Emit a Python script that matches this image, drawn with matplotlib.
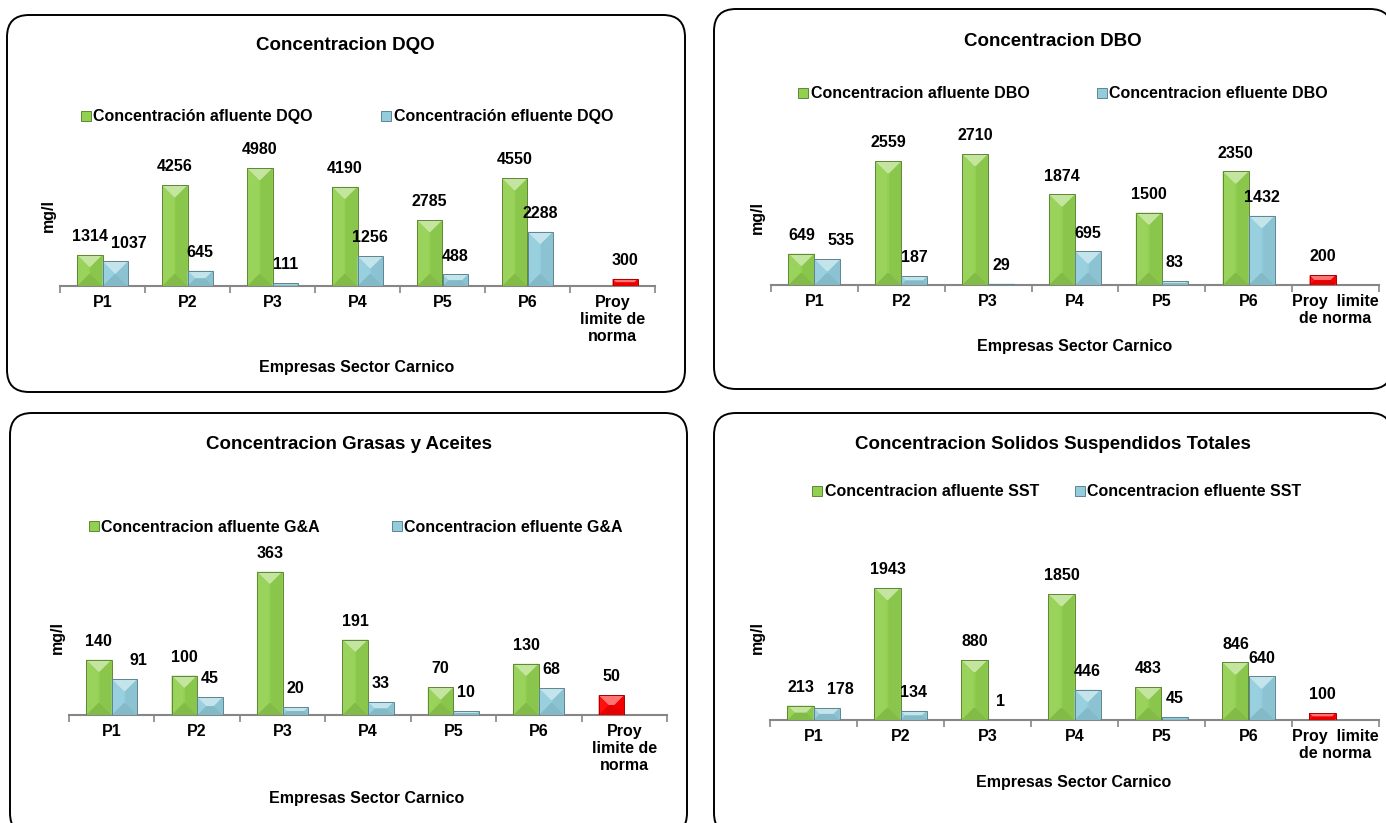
import numpy as np
import matplotlib
matplotlib.use("Agg")
import matplotlib.pyplot as plt
from matplotlib.patches import FancyBboxPatch, Polygon, Patch, Rectangle
from matplotlib.colors import to_rgb

plt.rcParams['font.family'] = ['Liberation Sans', 'DejaVu Sans']
plt.rcParams['font.weight'] = 'bold'

W, H = 1386, 823

# --- data -------------------------------------------------------------
categories = ['P1', 'P2', 'P3', 'P4', 'P5', 'P6']
proy_label_3 = 'Proy\nlimite de\nnorma'
proy_label_2 = 'Proy  limite\nde norma'

dqo_afluente = [1314, 4256, 4980, 4190, 2785, 4550]
dqo_efluente = [1037, 645, 111, 1256, 488, 2288]
dqo_norma = 300

dbo_afluente = [649, 2559, 2710, 1874, 1500, 2350]
dbo_efluente = [535, 187, 29, 695, 83, 1432]
dbo_norma = 200

ga_afluente = [140, 100, 363, 191, 70, 130]
ga_efluente = [91, 45, 20, 33, 10, 68]
ga_norma = 50

sst_afluente = [213, 1943, 880, 1850, 483, 846]
sst_efluente = [178, 134, 1, 446, 45, 640]
sst_norma = 100

GREEN = '#92D050'
BLUE = '#93CDDD'
RED = '#FF0000'
AXIS_GRAY = '#868686'


def fx(x):
    return x / W


def fy(y):
    return 1 - y / H


def lighten(c, f):
    r = np.array(to_rgb(c))
    return tuple(r + (1 - r) * f)


def darken(c, f):
    return tuple(np.array(to_rgb(c)) * (1 - f))


def bevel(ax, bars, color):
    # pyramid-style bevel faces on top of every bar, built in pixel space
    inv = ax.transData.inverted()
    for b in bars:
        x0, y0 = ax.transData.transform((b.get_x(), b.get_y()))
        x1, y1 = ax.transData.transform((b.get_x() + b.get_width(),
                                         b.get_y() + b.get_height()))
        w, h = x1 - x0, y1 - y0
        if h < 1:
            continue
        d = min(w / 2, h / 2, 12)
        faces = [
            ([(x0, y1), (x1, y1), (x1 - d, y1 - d), (x0 + d, y1 - d)], lighten(color, 0.45)),
            ([(x0, y0), (x1, y0), (x1 - d, y0 + d), (x0 + d, y0 + d)], darken(color, 0.10)),
            ([(x0, y0), (x0, y1), (x0 + d, y1 - d), (x0 + d, y0 + d)], lighten(color, 0.06)),
            ([(x1, y0), (x1, y1), (x1 - d, y1 - d), (x1 - d, y0 + d)], darken(color, 0.05)),
        ]
        for pts, fc in faces:
            ax.add_patch(Polygon(inv.transform(pts), closed=True, facecolor=fc,
                                 edgecolor='none', zorder=3))
        ax.add_patch(Rectangle(b.get_xy(), b.get_width(), b.get_height(), fill=False,
                               edgecolor=darken(color, 0.35), lw=0.7, zorder=4))


panels = [
    dict(title='Concentracion DQO', afl=dqo_afluente, efl=dqo_efluente, norma=dqo_norma,
         labels=('Concentración afluente DQO', 'Concentración efluente DQO'),
         proy=proy_label_3, norma_side=1, ymax=6000,
         box=(7, 15, 685, 392), axes=(60, 655, 286, 144),
         title_xy=(345, 46), legend_xy=(347, 117), colsp=4.3,
         ylab_xy=(48, 215), xlab_xy=(357, 368)),
    dict(title='Concentracion DBO', afl=dbo_afluente, efl=dbo_efluente, norma=dbo_norma,
         labels=('Concentracion afluente DBO', 'Concentracion efluente DBO'),
         proy=proy_label_2, norma_side=-1, ymax=3000,
         box=(714, 9, 1392, 389), axes=(771, 1379, 285, 140),
         title_xy=(1053, 42), legend_xy=(1063, 94), colsp=4.2,
         ylab_xy=(757, 217), xlab_xy=(1075, 347)),
    dict(title='Concentracion Grasas y Aceites', afl=ga_afluente, efl=ga_efluente, norma=ga_norma,
         labels=('Concentracion afluente G&A', 'Concentracion efluente G&A'),
         proy=proy_label_3, norma_side=-1, ymax=400,
         box=(10, 413, 687, 835), axes=(69, 667, 715, 557),
         title_xy=(349, 444), legend_xy=(356, 527), colsp=4.5,
         ylab_xy=(57, 637), xlab_xy=(367, 798)),
    dict(title='Concentracion Solidos Suspendidos Totales', afl=sst_afluente, efl=sst_efluente,
         norma=sst_norma,
         labels=('Concentracion afluente SST', 'Concentracion efluente SST'),
         proy=proy_label_2, norma_side=-1, ymax=2500,
         box=(714, 413, 1392, 835), axes=(770, 1379, 720, 550),
         title_xy=(1053, 444), legend_xy=(1057, 492), colsp=2.25,
         ylab_xy=(757, 637), xlab_xy=(1074, 783)),
]

fig = plt.figure(figsize=(W / 100, H / 100), dpi=100)

BAR_W = 0.3
FS = 11.5
P1_NUDGE = 10  # points; keeps the first pair of value labels apart

for p in panels:
    # rounded frame around each chart
    bl, bt, br, bb = p['box']
    frame = FancyBboxPatch((bl / 100, (H - bb) / 100), (br - bl) / 100, (bb - bt) / 100,
                           boxstyle='round,pad=0,rounding_size=0.22',
                           transform=fig.dpi_scale_trans, facecolor='white',
                           edgecolor='black', lw=1.4, zorder=0)
    fig.add_artist(frame)

    al, ar, abase, atop = p['axes']
    ax = fig.add_axes([fx(al), fy(abase), (ar - al) / W, (abase - atop) / H])
    ax.set_facecolor('none')
    ax.set_xlim(0, 7)
    ax.set_ylim(0, p['ymax'])

    x = np.arange(len(categories)) + 0.5
    g = ax.bar(x - BAR_W / 2, p['afl'], BAR_W, color=GREEN, zorder=2)
    b = ax.bar(x + BAR_W / 2, p['efl'], BAR_W, color=BLUE, zorder=2)
    r = ax.bar([6.5 + p['norma_side'] * BAR_W / 2], [p['norma']], BAR_W, color=RED, zorder=2)
    bevel(ax, g, GREEN)
    bevel(ax, b, BLUE)
    bevel(ax, r, RED)

    for bars, vals, nudge in ((g, p['afl'], 0), (b, p['efl'], P1_NUDGE), (r, [p['norma']], 0)):
        for i, (bar, v) in enumerate(zip(bars, vals)):
            dx = nudge if i == 0 else 0
            ax.annotate(f'{v}', (bar.get_x() + bar.get_width() / 2, bar.get_height()),
                        xytext=(dx, 10), textcoords='offset points',
                        ha='center', va='baseline', fontsize=FS, fontweight='bold',
                        zorder=5)

    for s in ('left', 'right', 'top'):
        ax.spines[s].set_visible(False)
    ax.spines['bottom'].set_color(AXIS_GRAY)
    ax.spines['bottom'].set_linewidth(1.5)
    ax.set_yticks([])
    ax.set_xticks(np.arange(7) + 0.5, categories + [p['proy']])
    ax.set_xticks(np.arange(8), minor=True)
    ax.tick_params(axis='x', which='major', length=0, pad=6.5, labelsize=FS)
    ax.tick_params(axis='x', which='minor', length=5, width=1.2, color=AXIS_GRAY,
                   direction='out')
    for lab in ax.get_xticklabels():
        lab.set_fontweight('bold')
        lab.set_linespacing(1.15)

    handles = [Patch(facecolor=GREEN, edgecolor=darken(GREEN, 0.35), lw=0.7),
               Patch(facecolor=BLUE, edgecolor=darken(BLUE, 0.35), lw=0.7)]
    ax.legend(handles, p['labels'], loc='center',
              bbox_to_anchor=(fx(p['legend_xy'][0]), fy(p['legend_xy'][1])),
              bbox_transform=fig.transFigure, ncol=2, frameon=False,
              prop={'weight': 'bold', 'size': FS}, handlelength=0.63,
              handleheight=0.63, handletextpad=0.15, columnspacing=p['colsp'],
              borderpad=0, borderaxespad=0)

    fig.text(fx(p['title_xy'][0]), fy(p['title_xy'][1]), p['title'],
             ha='center', va='center', fontsize=13.5, fontweight='bold')
    fig.text(fx(p['ylab_xy'][0]), fy(p['ylab_xy'][1]), 'mg/l', rotation=90,
             ha='center', va='center', fontsize=FS, fontweight='bold')
    fig.text(fx(p['xlab_xy'][0]), fy(p['xlab_xy'][1]), 'Empresas Sector Carnico',
             ha='center', va='center', fontsize=FS, fontweight='bold')

fig.savefig('out.png', dpi=100, facecolor='white')
